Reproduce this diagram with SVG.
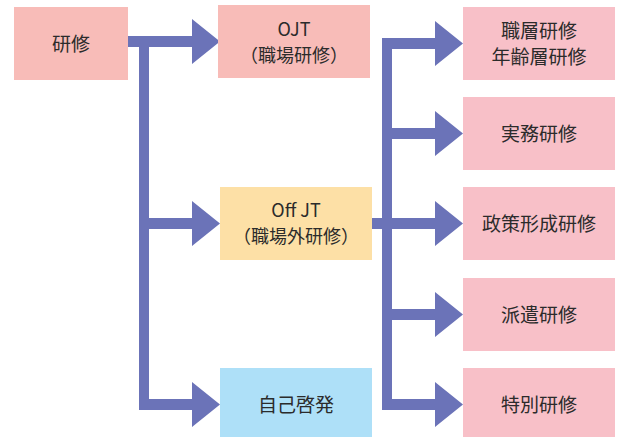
<svg xmlns="http://www.w3.org/2000/svg" width="619" height="437" viewBox="0 0 619 437">
<style>
.t{font-family:"Noto Sans CJK JP","Noto Sans",sans-serif;font-size:19px;fill:#2b2b2b;text-anchor:middle}
.s{font-size:18px}
.c{fill:#6b73b8}
</style>
<rect width="619" height="437" fill="#fff"/>
<g id="connectors" class="c">
<path d="M128 36H192V19L220 41.5L192 64V47H149V218H192V201L220 223.5L192 246V229H149V399H192V382L220 404.5L192 427V410H139V47H128Z"/>
<path d="M382 38H435V21L463 43.5L435 66V49H392V128H435V111L463 133.5L435 156V139H392V218H435V201L463 223.5L435 246V229H392V309H435V292L463 314.5L435 337V320H392V399H435V382L463 404.5L435 427V410H382V320H382V229H372V218H382Z"/>
</g>
<g id="kenshu"><rect x="14" y="7" width="114" height="73" fill="#f8bcb8"/><text class="t" x="71" y="51">研修</text></g>
<g id="ojt"><rect x="218" y="5" width="152" height="73" fill="#f8bcb8"/><text class="t s" x="294" y="36">OJT</text><text class="t s" x="294" y="62">（職場研修）</text></g>
<g id="offjt"><rect x="220" y="187" width="152" height="73" fill="#fde0a6"/><text class="t s" x="296" y="217">Off JT</text><text class="t s" x="296" y="243">（職場外研修）</text></g>
<g id="jiko"><rect x="220" y="368" width="152" height="69" fill="#aee0f8"/><text class="t" x="296" y="412">自己啓発</text></g>
<g id="shokuso"><rect x="463" y="7" width="152" height="73" fill="#f8c0c8"/><text class="t" x="539" y="38">職層研修</text><text class="t" x="539" y="64">年齢層研修</text></g>
<g id="jitsumu"><rect x="463" y="97" width="152" height="73" fill="#f8c0c8"/><text class="t" x="539" y="141">実務研修</text></g>
<g id="seisaku"><rect x="463" y="187" width="152" height="73" fill="#f8c0c8"/><text class="t" x="539" y="231">政策形成研修</text></g>
<g id="haken"><rect x="463" y="278" width="152" height="73" fill="#f8c0c8"/><text class="t" x="539" y="322">派遣研修</text></g>
<g id="tokubetsu"><rect x="463" y="368" width="152" height="69" fill="#f8c0c8"/><text class="t" x="539" y="412">特別研修</text></g>
</svg>
